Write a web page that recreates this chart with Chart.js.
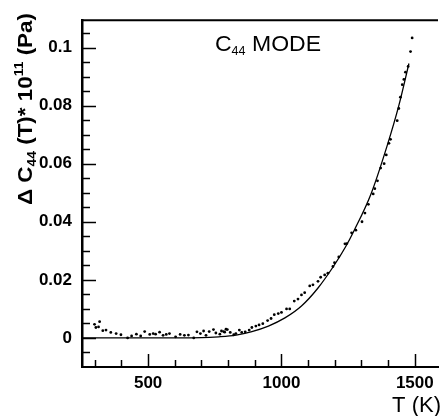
<!DOCTYPE html>
<html>
<head>
<meta charset="utf-8">
<script src="https://cdn.jsdelivr.net/npm/chart.js@4/dist/chart.umd.min.js"></script>
<style>
html,body{margin:0;padding:0;background:#fff;}
#wrap{width:442px;height:416px;position:relative;}
</style>
</head>
<body>
<div id="wrap"><canvas id="c" width="442" height="416"></canvas></div>
<script>
// Measured points: temperature (K) and ΔC44 (×10^11 Pa)
const tempK = [299,304,314,318,330,342,360,380,398,423,438,456,472,487,506,519,528,543,556,568,580,603,620,636,651,671,683,696,708,717,729,745,754,769,775,783,787,792,797,808,821,829,842,851,864,879,889,904,916,930,948,961,973,988,1000,1019,1031,1048,1062,1075,1087,1106,1118,1137,1147,1162,1174,1193,1199,1215,1238,1245,1263,1279,1302,1313,1326,1344,1350,1360,1372,1385,1393,1403,1409,1434,1440,1446,1453,1459,1465,1475,1484,1490];
const dC44 = [0.0047,0.0036,0.0038,0.0056,0.0025,0.0027,0.0019,0.0015,0.0011,0.0000,0.0007,0.0013,0.0007,0.0022,0.0012,0.0015,0.0013,0.0020,0.0009,0.0012,0.0015,0.0004,0.0012,0.0009,0.0010,0.0000,0.0021,0.0015,0.0024,0.0009,0.0022,0.0029,0.0017,0.0013,0.0024,0.0022,0.0020,0.0030,0.0029,0.0019,0.0011,0.0015,0.0027,0.0019,0.0021,0.0027,0.0036,0.0041,0.0045,0.0049,0.0060,0.0067,0.0080,0.0084,0.0088,0.0100,0.0100,0.0127,0.0134,0.0148,0.0156,0.0179,0.0183,0.0195,0.0209,0.0217,0.0223,0.0246,0.0259,0.0279,0.0324,0.0325,0.0362,0.0371,0.0400,0.0430,0.0460,0.0496,0.0514,0.0541,0.0585,0.0600,0.0630,0.0670,0.0684,0.0748,0.0790,0.0829,0.0872,0.0890,0.0915,0.0935,0.0986,0.1033];
// Theoretical curve
const fitT = [250,500,700,765,830,889,951,1013,1075,1137,1199,1240,1273,1335,1397,1440,1478];
const fitC = [0,0,0.0001,0.0004,0.0010,0.0022,0.0041,0.0069,0.0110,0.0172,0.0252,0.0313,0.0371,0.0494,0.0664,0.0800,0.0945];
// Ticks
const xMajorTicks = [500,1000,1500];
const xTickLabels = ['500','1000','1500'];
const xMinorTicks = [300,400,600,700,800,900,1100,1200,1300,1400];
const yMajorTicks = [0,0.02,0.04,0.06,0.08,0.1];
const yTickLabels = ['0','0.02','0.04','0.06','0.08','0.1'];
const yMinorTicks = [-0.005,0.005,0.01,0.015,0.025,0.03,0.035,0.045,0.05,0.055,0.065,0.07,0.075,0.085,0.09,0.095,0.105];

const FONT = "'Liberation Sans', Arial, Helvetica, sans-serif";

function drawRuns(ctx, runs, x, y, baseSize, weight) {
  let cx = x;
  for (const r of runs) {
    const size = r.size || baseSize;
    ctx.font = weight + ' ' + size + 'px ' + FONT;
    ctx.fillText(r.t, cx, y + (r.dy || 0));
    cx += ctx.measureText(r.t).width;
  }
  return cx - x;
}
function measureRuns(ctx, runs, baseSize, weight) {
  let w = 0;
  for (const r of runs) {
    ctx.font = weight + ' ' + (r.size || baseSize) + 'px ' + FONT;
    w += ctx.measureText(r.t).width;
  }
  return w;
}

const decor = {
  id: 'decor',
  afterDraw(chart) {
    const ctx = chart.ctx;
    const a = chart.chartArea;
    const xs = chart.scales.x, ys = chart.scales.y;
    ctx.save();
    ctx.strokeStyle = '#000';
    // top frame line
    ctx.lineWidth = 2;
    ctx.beginPath(); ctx.moveTo(a.left, a.top); ctx.lineTo(a.right, a.top); ctx.stroke();
    // inward ticks
    ctx.lineWidth = 1.5;
    const tick = (arr, len, isX) => {
      for (const v of arr) {
        ctx.beginPath();
        if (isX) {
          const p = Math.round(xs.getPixelForValue(v)) + 0.5;
          ctx.moveTo(p, a.bottom); ctx.lineTo(p, a.bottom - len);
        } else {
          const p = Math.round(ys.getPixelForValue(v)) + 0.5;
          ctx.moveTo(a.left, p); ctx.lineTo(a.left + len, p);
        }
        ctx.stroke();
      }
    };
    tick(xMajorTicks, 13, true);
    tick(xMinorTicks, 7, true);
    tick(yMajorTicks, 14, false);
    tick(yMinorTicks, 8, false);

    ctx.fillStyle = '#000';
    ctx.textBaseline = 'alphabetic';
    ctx.textAlign = 'left';
    // annotation, fitted to its span in the reference
    const ann = [{t:'C'},{t:'44', size:12, dy:4},{t:' MODE'}];
    const aw = measureRuns(ctx, ann, 22, 'normal');
    ctx.save();
    ctx.translate(215, 51);
    ctx.scale(106 / aw, 1);
    drawRuns(ctx, ann, 0, 0, 22, 'normal');
    ctx.restore();
    // x axis title
    ctx.font = 'normal 22px ' + FONT;
    const tw = ctx.measureText('T (K)').width;
    ctx.fillText('T (K)', 441 - tw, 412);
    // y axis title (rotated), fitted between y=205 and y=13
    const runs = [{t:'Δ C'},{t:'44', size:13, dy:4},{t:' (T)* 10'},{t:'11', size:13, dy:-9},{t:' (Pa)'}];
    const w = measureRuns(ctx, runs, 21, 'bold');
    ctx.save();
    ctx.translate(32, 205);
    ctx.rotate(-Math.PI/2);
    ctx.scale(192 / w, 1);
    drawRuns(ctx, runs, 0, 0, 21, 'bold');
    ctx.restore();
    ctx.restore();
  }
};

new Chart(document.getElementById('c'), {
  type: 'scatter',
  data: {
    datasets: [
      {
        data: tempK.map((t,i)=>({x:t, y:dC44[i]})),
        pointRadius: 1.4,
        pointBackgroundColor: '#000',
        pointBorderWidth: 0,
        showLine: false
      },
      {
        type: 'line',
        data: fitT.map((t,i)=>({x:t, y:fitC[i]})),
        borderColor: '#000',
        borderWidth: 1.3,
        pointRadius: 0,
        cubicInterpolationMode: 'monotone',
        fill: false
      }
    ]
  },
  options: {
    responsive: false,
    animation: false,
    devicePixelRatio: 1,
    layout: { padding: { left: 0, top: 11, right: 1, bottom: 0 } },
    plugins: { legend: { display: false }, tooltip: { enabled: false } },
    scales: {
      x: {
        type: 'linear', min: 252, max: 1587,
        afterBuildTicks: s => { s.ticks = xMajorTicks.map(v => ({value: v})); },
        afterFit: s => { s.height = 49; },
        grid: { display: false, drawTicks: false },
        border: { display: true, color: '#000', width: 2 },
        ticks: {
          autoSkip: false, maxRotation: 0, padding: 6, color: '#000',
          font: { family: FONT, size: 17, weight: 'bold' },
          callback: (v, i) => xTickLabels[i]
        }
      },
      y: {
        type: 'linear', min: -0.01, max: 0.1094,
        afterBuildTicks: s => { s.ticks = yMajorTicks.map(v => ({value: v})); },
        afterFit: s => { s.width = 82; },
        grid: { display: false, drawTicks: false },
        border: { display: true, color: '#000', width: 2.5 },
        ticks: {
          autoSkip: false, padding: 10, color: '#000',
          font: { family: FONT, size: 17, weight: 'bold' },
          callback: (v, i) => yTickLabels[i]
        }
      }
    }
  },
  plugins: [decor]
});
</script>
</body>
</html>
